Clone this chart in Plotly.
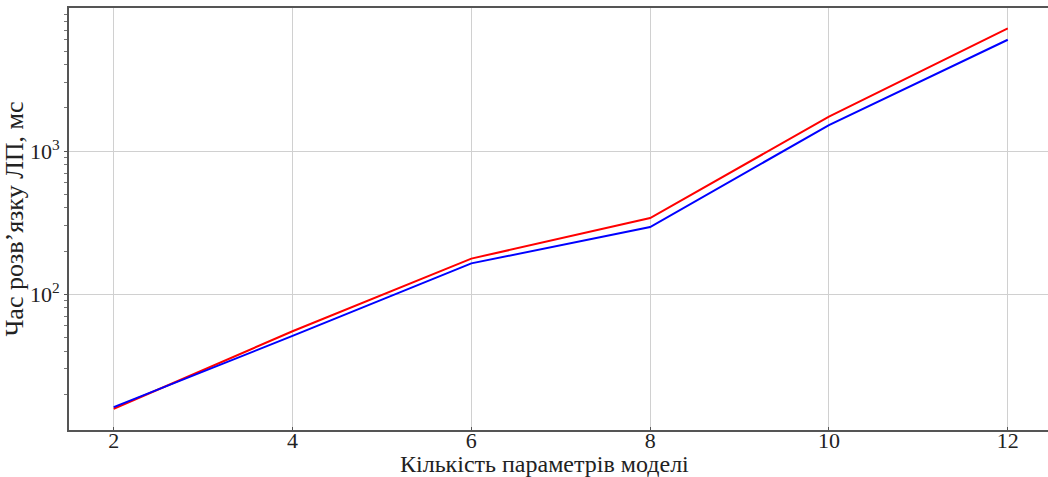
import plotly.graph_objects as go

params = [2, 4, 6, 8, 10, 12]
time_red = [15.8, 55, 177, 340, 1740, 7200]
time_blue = [16.2, 51, 164, 294, 1520, 6000]

x_ticks = [2, 4, 6, 8, 10, 12]
y_ticks = [100, 1000]
y_tick_text = ["10<sup>2</sup>", "10<sup>3</sup>"]
y_minor = [20, 30, 40, 50, 60, 70, 80, 90, 200, 300, 400, 500, 600, 700, 800, 900,
           2000, 3000, 4000, 5000, 6000, 7000, 8000, 9000]
x_title = "Кількість параметрів моделі"
y_title = "Час розв’язку ЛП, мс"

fig = go.Figure()
fig.add_trace(go.Scatter(x=params, y=time_red, mode="lines",
                         line=dict(color="red", width=2), showlegend=False))
fig.add_trace(go.Scatter(x=params, y=time_blue, mode="lines",
                         line=dict(color="blue", width=2), showlegend=False))

font = "Liberation Serif, Times New Roman, serif"
fig.update_layout(
    width=1048, height=477,
    margin=dict(l=69, r=0, t=8, b=47),
    paper_bgcolor="white", plot_bgcolor="white",
    font=dict(family=font, size=22, color="#222"),
    xaxis=dict(
        range=[1.5, 12.45], tickvals=x_ticks, automargin=False,
        showgrid=True, gridcolor="#d0d0d0", gridwidth=1,
        showline=True, linecolor="#555", linewidth=2, mirror=True,
        ticks="inside", ticklen=3, tickcolor="#555",
        tickfont=dict(family=font, size=22),
        ticklabelstandoff=-10,
        zeroline=False,
    ),
    yaxis=dict(
        type="log", range=[1.05, 4.0], automargin=False,
        tickvals=y_ticks, ticktext=y_tick_text,
        showgrid=True, gridcolor="#d0d0d0", gridwidth=1,
        showline=True, linecolor="#555", linewidth=2, mirror=False,
        ticks="outside", ticklen=3, tickcolor="#555",
        tickfont=dict(family=font, size=22),
        minor=dict(tickvals=y_minor, ticks="outside", ticklen=3,
                   tickcolor="#777", showgrid=False),
        zeroline=False,
        title=dict(text=y_title, standoff=0,
                   font=dict(family=font, size=26)),
    ),
)
fig.add_annotation(text=x_title, xref="paper", yref="paper",
                   x=0.486, y=0, xanchor="center", yanchor="top",
                   yshift=-19, showarrow=False,
                   font=dict(family=font, size=24, color="#222"))

fig.write_html("out.html")
